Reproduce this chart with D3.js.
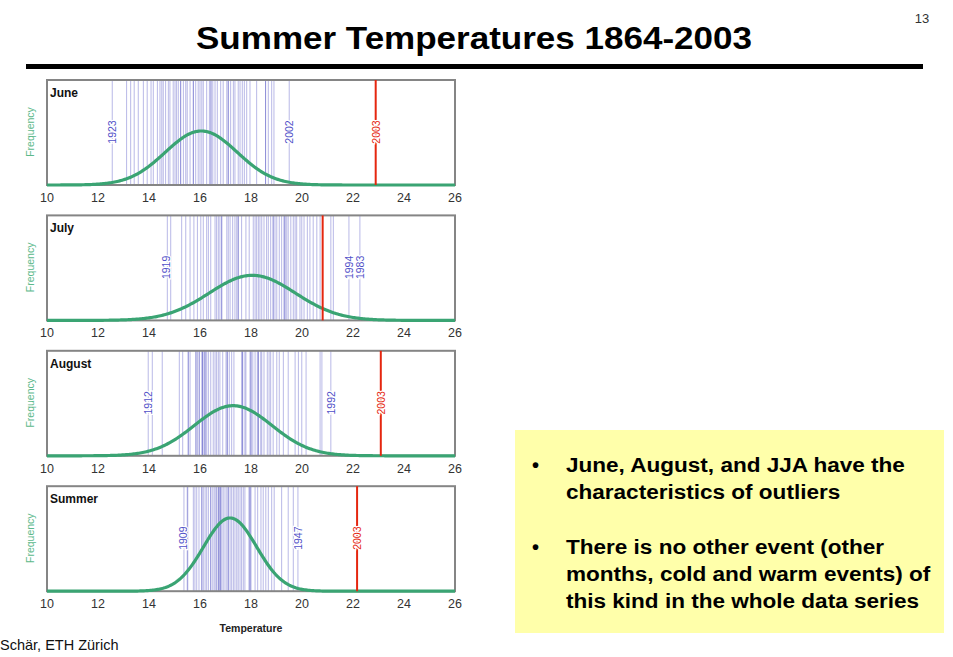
<!DOCTYPE html>
<meta charset="utf-8">
<script src="https://d3js.org/d3.v7.js"></script>
<style>
  body { margin: 0; background: #fff; }
  svg text { font-family: "Liberation Sans", Arial, sans-serif; }
</style>
<div id="chart"></div>
<script>
// yearly temperatures (deg C), one array per panel
const juneTemps = [12.56, 13.12, 13.28, 13.42, 13.58, 13.78, 13.93, 14.08, 14.17, 14.33, 14.43, 14.50, 14.56,
  14.65, 14.76, 14.82, 14.95, 15.02, 15.08, 15.15, 15.24, 15.24, 15.35, 15.44, 15.50, 15.61, 15.74, 15.74,
  15.83, 15.93, 16.00, 16.07, 16.13, 16.26, 16.37, 16.43, 16.43, 16.50, 16.59, 16.68, 16.81, 16.91, 17.05,
  17.11, 17.11, 17.20, 17.31, 17.37, 17.50, 17.57, 17.66, 17.74, 17.83, 17.96, 18.22, 18.57, 18.57, 18.68,
  18.81, 18.90, 19.50];
const julyTemps = [14.72, 14.85, 15.28, 15.44, 15.61, 15.76, 15.90, 16.03, 16.13, 16.26, 16.33, 16.42, 16.59,
  16.65, 16.72, 16.78, 16.85, 16.85, 17.05, 17.11, 17.18, 17.28, 17.37, 17.44, 17.50, 17.50, 17.63, 17.80,
  17.93, 18.09, 18.16, 18.22, 18.29, 18.35, 18.42, 18.51, 18.61, 18.68, 18.77, 18.87, 18.87, 18.94, 19.01,
  19.11, 19.20, 19.29, 19.33, 19.33, 19.40, 19.46, 19.56, 19.66, 19.73, 19.79, 19.92, 19.99, 20.08, 20.21,
  20.31, 20.44, 20.58, 20.71, 21.13, 21.23, 21.84, 22.27];
const augustTemps = [13.97, 14.13, 14.52, 15.19, 15.32, 15.54, 15.54, 15.61, 15.84, 15.84, 15.90, 15.97, 15.97,
  16.07, 16.10, 16.10, 16.16, 16.20, 16.20, 16.26, 16.33, 16.42, 16.52, 16.59, 16.65, 16.72, 16.78, 16.89,
  17.02, 17.07, 17.07, 17.15, 17.24, 17.33, 17.63, 17.67, 17.67, 17.76, 17.80, 17.96, 18.00, 18.00, 18.07,
  18.16, 18.25, 18.29, 18.29, 18.38, 18.42, 18.51, 18.64, 18.71, 18.77, 18.87, 19.01, 19.11, 19.27, 19.46,
  19.73, 19.86, 19.99, 20.16, 20.71, 20.78, 21.13];
const summerTemps = [15.37, 15.50, 15.52, 15.74, 15.80, 15.87, 15.96, 16.07, 16.07, 16.13, 16.20, 16.26, 16.33,
  16.42, 16.42, 16.50, 16.56, 16.62, 16.65, 16.72, 16.72, 16.76, 16.80, 16.80, 16.85, 16.91, 16.98, 17.05,
  17.11, 17.11, 17.18, 17.24, 17.31, 17.37, 17.44, 17.50, 17.57, 17.63, 17.70, 17.76, 17.92, 17.96, 17.96,
  18.00, 18.16, 18.26, 18.39, 18.48, 18.58, 18.68, 18.81, 18.91, 19.20, 19.46, 19.66, 19.84];

const panelNames = ["June", "July", "August", "Summer"];
const panelTemps = [juneTemps, julyTemps, augustTemps, summerTemps];
const temps2003 = [22.89, 20.81, 23.09, 22.16];
// fitted normal curves
const curveMeans = [16.05, 18.05, 17.3, 17.18];
const curveSds = [1.41, 1.69, 1.52, 1.04];
// labelled record years: [temperature, year]
const coldLabels = [[12.56, "1923"], [14.68, "1919"], [13.97, "1912"], [15.35, "1909"]];
const warmLabels = [[[19.50, "2002"]], [[21.84, "1994"], [22.27, "1983"]], [[21.13, "1992"]], [[19.84, "1947"]]];
const label2003 = [true, false, true, true];
const xTicks = [10, 12, 14, 16, 18, 20, 22, 24, 26];

const bullets = [
  ["June, August, and JJA have the", "characteristics of outliers"],
  ["There is no other event (other", "months, cold and warm events) of", "this kind in the whole data series"]
];

const W = 953, H = 657;
const svg = d3.select("#chart").append("svg").attr("width", W).attr("height", H);

// title + rule
svg.append("text").attr("x", 474).attr("y", 49).attr("text-anchor", "middle")
  .attr("font-size", 31).attr("font-weight", "bold").attr("fill", "#000")
  .attr("textLength", 556).attr("lengthAdjust", "spacingAndGlyphs")
  .text("Summer Temperatures 1864-2003");
svg.append("rect").attr("x", 26).attr("y", 64).attr("width", 897).attr("height", 5).attr("fill", "#000");
svg.append("text").attr("x", 922).attr("y", 23).attr("text-anchor", "middle")
  .attr("font-size", 13).attr("fill", "#333").text("13");

const x = d3.scaleLinear().domain([10, 26]).range([47, 455]);
const ph = 105;
const y = d3.scaleLinear().domain([0, 0.55]).range([ph, 0]);

function normal(t, m, s) {
  return Math.exp(-0.5 * ((t - m) / s) ** 2) / (s * Math.sqrt(2 * Math.PI));
}

panelNames.forEach((name, i) => {
  const top = 80 + i * 135.4;
  const g = svg.append("g").attr("transform", `translate(0,${top})`);

  // yearly lines
  g.append("g").selectAll("line").data(panelTemps[i]).join("line")
    .attr("x1", d => x(d)).attr("x2", d => x(d))
    .attr("y1", 0).attr("y2", ph)
    .attr("stroke", "#2b2bb5").attr("stroke-opacity", 0.3).attr("stroke-width", 1.1);

  // frame
  g.append("rect").attr("x", x(10)).attr("y", 0).attr("width", x(26) - x(10)).attr("height", ph)
    .attr("fill", "none").attr("stroke", "#858585").attr("stroke-width", 2);

  // normal curve
  const pts = d3.range(10, 26.001, 0.05);
  g.append("path").datum(pts)
    .attr("d", d3.line().x(d => x(d)).y(d => y(normal(d, curveMeans[i], curveSds[i]))))
    .attr("fill", "none").attr("stroke", "#3aa473").attr("stroke-width", 3.2);

  // 2003 line
  g.append("line").attr("x1", x(temps2003[i])).attr("x2", x(temps2003[i]))
    .attr("y1", 0).attr("y2", ph).attr("stroke", "#e5260f").attr("stroke-width", 2);

  // year labels
  const labs = [coldLabels[i]].concat(warmLabels[i]).map(d => ({t: d[0], yr: d[1], c: "#5050c8"}));
  if (label2003[i]) labs.push({t: temps2003[i], yr: "2003", c: "#e5260f"});
  g.append("g").selectAll("text").data(labs).join("text")
    .attr("transform", d => `translate(${x(d.t)},52) rotate(-90)`)
    .attr("text-anchor", "middle").attr("dominant-baseline", "central")
    .attr("font-size", 10.5).attr("fill", d => d.c)
    .attr("stroke", "#fff").attr("stroke-width", 2.5).attr("paint-order", "stroke")
    .text(d => d.yr);

  // panel name
  g.append("text").attr("x", 50).attr("y", 17).attr("font-size", 12).attr("font-weight", "bold")
    .attr("fill", "#111").text(name);

  // y label
  g.append("text").attr("transform", "translate(30,52) rotate(-90)")
    .attr("text-anchor", "middle").attr("dominant-baseline", "central")
    .attr("font-size", 10.5).attr("fill", "#5cb98b").text("Frequency");

  // x axis labels
  g.append("g").selectAll("text").data(xTicks).join("text")
    .attr("x", d => x(d)).attr("y", ph + 17).attr("text-anchor", "middle")
    .attr("font-size", 12.5).attr("fill", "#333").text(d => d);
});

svg.append("text").attr("x", 251).attr("y", 632).attr("text-anchor", "middle")
  .attr("font-size", 10.5).attr("font-weight", "bold").attr("fill", "#222").text("Temperature");

svg.append("text").attr("x", 0).attr("y", 650).attr("font-size", 14.5).attr("fill", "#111")
  .text("Schär, ETH Zürich");

// yellow note box
svg.append("rect").attr("x", 515).attr("y", 430).attr("width", 429).attr("height", 203).attr("fill", "#ffffaa");
let ly = 472;
bullets.forEach((b, bi) => {
  svg.append("text").attr("x", 532).attr("y", ly).attr("font-size", 20).attr("font-weight", "bold").text("•");
  b.forEach(line => {
    svg.append("text").attr("transform", `translate(566,${ly}) scale(1.1,1)`)
      .attr("font-size", 20.5).attr("font-weight", "bold")
      .attr("fill", "#000").text(line);
    ly += 27;
  });
  ly += 28;
});
</script>
